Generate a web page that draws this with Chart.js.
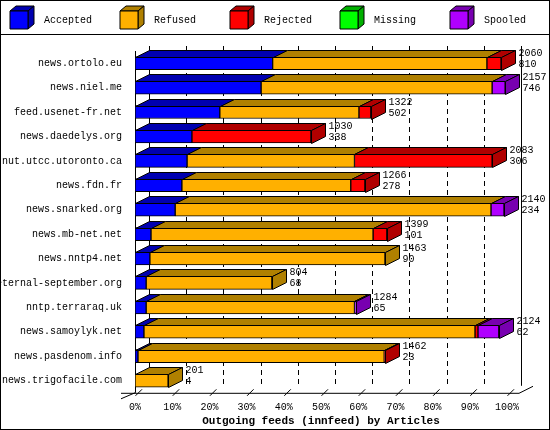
<!DOCTYPE html>
<html><head><meta charset="utf-8">
<script src="https://cdn.jsdelivr.net/npm/chart.js@4/dist/chart.umd.min.js"></script>
<style>body{margin:0;background:#fff}#w{position:relative;width:550px;height:430px}canvas{display:block}</style>
</head><body><div id="w"><canvas id="c" width="550" height="430"></canvas></div>
<script>
const hosts=["news.ortolo.eu","news.niel.me","feed.usenet-fr.net","news.daedelys.org","nut.utcc.utoronto.ca","news.fdn.fr","news.snarked.org","news.mb-net.net","news.nntp4.net","eternal-september.org","nntp.terraraq.uk","news.samoylyk.net","news.pasdenom.info","news.trigofacile.com"];
const accepted=[37,33.9,22.8,15.3,14,12.6,10.8,4.3,4,3,3,2.4,0.8,0];
const refused=[57.6,62.1,37.4,0,45,45.4,84.9,59.7,63.2,33.8,56,89,66.2,8.9];
const rejected=[3.8,0,3.2,32,37,3.8,0,3.7,0,0,0,0.8,0.3,0];
const missing=[0,0,0,0,0,0,0,0,0,0,0,0,0,0];
const spooled=[0,3.5,0,0,0,0,3.5,0,0,0,0.5,5.6,0,0];
const totals=["2060","2157","1322","1030","2083","1266","2140","1399","1463","804","1284","2124","1462","201"];
const accCounts=["810","746","502","338","306","278","234","101","90","68","65","62","23","4"];
const xTicks=[0,10,20,30,40,50,60,70,80,90,100];
const names=["Accepted","Refused","Rejected","Missing","Spooled"];
const front=["#0000ff","#ffb000","#ff0000","#00ff00","#b000ff"];
const dark=["#0000b0","#b08000","#b00000","#00b000","#7800b0"];
const FAM="'Liberation Mono', monospace";
const DX=14,DY=7,F="10px "+FAM;
const series=[accepted,refused,rejected,missing,spooled];
function poly(ctx,pts,fill){ctx.beginPath();ctx.moveTo(pts[0][0],pts[0][1]);for(const p of pts.slice(1))ctx.lineTo(p[0],p[1]);ctx.closePath();ctx.fillStyle=fill;ctx.fill();ctx.stroke();}
const deco={id:'deco',
beforeDatasetsDraw(ch){const ctx=ch.ctx,a=ch.chartArea,x=ch.scales.x;ctx.save();ctx.strokeStyle='#000';ctx.lineWidth=1;
 ctx.strokeRect(0.5,0.5,549,429);ctx.beginPath();ctx.moveTo(0,34.5);ctx.lineTo(550,34.5);ctx.stroke();
 ctx.font=F;ctx.textBaseline='middle';
 names.forEach((n,i)=>{const lx=10+i*110,ly=11,s=18;ctx.lineWidth=1;
  poly(ctx,[[lx,ly],[lx+s,ly],[lx+s+6,ly-5],[lx+6,ly-5]],dark[i]);
  poly(ctx,[[lx+s,ly],[lx+s+6,ly-5],[lx+s+6,ly+s-5],[lx+s,ly+s]],dark[i]);
  poly(ctx,[[lx,ly],[lx+s,ly],[lx+s,ly+s],[lx,ly+s]],front[i]);
  ctx.fillStyle='#000';ctx.fillText(n,lx+34,ly+9);});
 ctx.setLineDash([5,4]);
 xTicks.forEach(t=>{if(t===0||t===100)return;const gx=Math.round(x.getPixelForValue(t))+DX+0.5;ctx.beginPath();ctx.moveTo(gx,a.top-5);ctx.lineTo(gx,a.bottom-DY);ctx.stroke();});
 ctx.setLineDash([]);
 const x0=x.getPixelForValue(0),x1=x.getPixelForValue(100);
 ctx.beginPath();ctx.moveTo(x0+DX+0.5,a.top-5);ctx.lineTo(x0+DX+0.5,a.bottom-DY);
 ctx.moveTo(x1+DX+0.5,a.top-5);ctx.lineTo(x1+DX+0.5,a.bottom-DY);
 ctx.moveTo(x0+0.5,a.top);ctx.lineTo(x0+0.5,a.bottom);
 ctx.moveTo(x0-14,a.bottom+0.5);ctx.lineTo(x1+12,a.bottom+0.5);ctx.lineTo(x1+12+DX,a.bottom-DY+0.5);
 ctx.moveTo(x0-14,a.bottom+6);ctx.lineTo(x0,a.bottom);
 ctx.stroke();
 xTicks.forEach(t=>{const gx=x.getPixelForValue(t);ctx.beginPath();ctx.moveTo(gx+0.5,a.bottom+3);ctx.lineTo(gx+DX*0.5,a.bottom-DY*0.5);ctx.stroke();});
 ctx.restore();},
afterDatasetsDraw(ch){const ctx=ch.ctx;ctx.save();ctx.strokeStyle='#000';ctx.lineWidth=1;
 hosts.forEach((h,j)=>{let last=-1;
  for(let i=0;i<5;i++){if(series[i][j]>0)last=i;}
  for(let i=0;i<5;i++){if(!(series[i][j]>0))continue;const el=ch.getDatasetMeta(i).data[j];
   const xa=Math.round(el.base)+0.5,xb=Math.round(el.x)+0.5,yt=Math.round(el.y-el.height/2)+0.5,yb=Math.round(el.y+el.height/2)+0.5;
   poly(ctx,[[xa,yt],[xb,yt],[xb+DX,yt-DY],[xa+DX,yt-DY]],dark[i]);
   if(i===last){poly(ctx,[[xb,yt],[xb+DX,yt-DY],[xb+DX,yb-DY],[xb,yb]],dark[i]);
    ctx.fillStyle='#000';ctx.font=F;ctx.textBaseline='middle';ctx.textAlign='left';
    ctx.fillText(totals[j],xb+DX+3,yt-4);ctx.fillText(accCounts[j],xb+DX+3,yt+7);}
  }});
 ctx.restore();}};
new Chart(document.getElementById('c'),{type:'bar',
 data:{labels:hosts,datasets:series.map((d,i)=>({label:names[i],data:d,backgroundColor:front[i],borderColor:'#000',borderWidth:1,borderSkipped:false,barThickness:13}))},
 plugins:[deco],
 options:{indexAxis:'y',responsive:false,animation:false,devicePixelRatio:1,
  layout:{padding:{top:51,right:43,left:0,bottom:0}},
  plugins:{legend:{display:false},tooltip:{enabled:false}},
  scales:{
   x:{stacked:true,min:0,max:100,grid:{display:false},border:{display:false},
    afterBuildTicks(s){s.ticks=xTicks.map(v=>({value:v}));},
    ticks:{callback:v=>v+'%',color:'#000',font:{family:FAM,size:10},maxRotation:0,padding:1},
    title:{display:true,text:'Outgoing feeds (innfeed) by Articles',color:'#000',font:{family:FAM,size:11,weight:'bold'},padding:{top:0,bottom:2}}},
   y:{stacked:true,grid:{display:false},border:{display:false},
    afterFit(s){s.width=135;},
    ticks:{color:'#000',font:{family:FAM,size:10},padding:5}}
  }}});
</script></body></html>
